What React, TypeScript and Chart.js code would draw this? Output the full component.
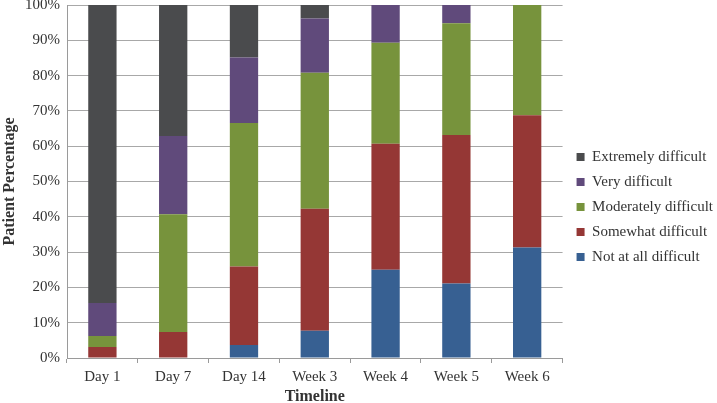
import React, { useEffect, useRef } from "react";
import { Chart, registerables } from "chart.js";

Chart.register(...registerables);

const categories = ["Day 1", "Day 7", "Day 14", "Week 3", "Week 4", "Week 5", "Week 6"];
const seriesNames = [
  "Not at all difficult",
  "Somewhat difficult",
  "Moderately difficult",
  "Very difficult",
  "Extremely difficult",
];
const notAtAll = [0, 0, 3.7, 7.7, 25.0, 21.1, 31.3];
const somewhat = [3.1, 7.4, 22.2, 34.6, 35.7, 42.1, 37.5];
const moderately = [3.1, 33.3, 40.7, 38.5, 28.6, 31.6, 31.2];
const very = [9.4, 22.2, 18.5, 15.4, 10.7, 5.2, 0];
const extremely = [84.4, 37.1, 14.9, 3.8, 0, 0, 0];
const colors = ["#376092", "#953735", "#77933C", "#604A7B", "#4A4B4D"];
const yTicks = [0, 10, 20, 30, 40, 50, 60, 70, 80, 90, 100];

const FONT = "'Liberation Serif', serif";
const TEXT = "#333333";

const legendShift = {
  id: "legendShift",
  afterLayout(chart: any) {
    if (chart.legend) {
      chart.legend.left += 4;
      chart.legend.right += 4;
      chart.legend.top += 3;
      chart.legend.bottom += 3;
    }
  },
};

export default function App() {
  const ref = useRef<HTMLCanvasElement | null>(null);
  useEffect(() => {
    const canvas = ref.current!;
    const values = [notAtAll, somewhat, moderately, very, extremely];
    const chart = new Chart(canvas, {
      type: "bar",
      data: {
        labels: categories,
        datasets: seriesNames.map((name, i) => ({
          label: name,
          data: values[i],
          backgroundColor: colors[i],
          borderWidth: 0,
          barPercentage: 0.4,
          categoryPercentage: 1,
        })),
      },
      plugins: [legendShift],
      options: {
        responsive: false,
        animation: false,
        devicePixelRatio: 1,
        layout: { padding: { top: 5, right: -2, bottom: 0, left: 0 } },
        plugins: {
          tooltip: { enabled: false },
          legend: {
            position: "right",
            reverse: true,
            labels: {
              boxWidth: 8,
              boxHeight: 8,
              padding: 10,
              color: TEXT,
              font: { family: FONT, size: 15 },
            },
          },
        },
        scales: {
          x: {
            stacked: true,
            grid: {
              offset: true,
              drawOnChartArea: false,
              drawTicks: true,
              tickLength: 5,
              color: "#9a9a9a",
            },
            border: { color: "#9a9a9a" },
            ticks: { color: TEXT, font: { family: FONT, size: 15 }, padding: 5 },
            title: {
              display: true,
              text: "Timeline",
              color: TEXT,
              font: { family: FONT, size: 16, weight: "bold", lineHeight: "12px" },
              padding: { top: 0, bottom: 0 },
            },
            afterFit: (s: any) => {
              s.height = 45;
            },
          },
          y: {
            stacked: true,
            min: 0,
            max: 100,
            afterBuildTicks: (s: any) => {
              s.ticks = yTicks.map((v) => ({ value: v }));
            },
            grid: { color: "#a8a8a8", drawTicks: false },
            border: { color: "#9a9a9a" },
            ticks: {
              color: TEXT,
              font: { family: FONT, size: 15 },
              padding: 7,
              callback: (v: any) => v + "%",
            },
            title: {
              display: true,
              text: "Patient Percentage",
              color: TEXT,
              font: { family: FONT, size: 16, weight: "bold" },
              padding: { top: 0, bottom: 0 },
            },
            afterFit: (s: any) => {
              s.width = 67;
              s.paddingTop = 0;
              s.paddingBottom = 0;
            },
          },
        },
      },
    });
    return () => chart.destroy();
  }, []);
  return (
    <div style={{ position: "fixed", left: 0, top: 0, width: 717, height: 403, background: "#fff" }}>
      <canvas ref={ref} width={717} height={403} style={{ display: "block" }} />
    </div>
  );
}
